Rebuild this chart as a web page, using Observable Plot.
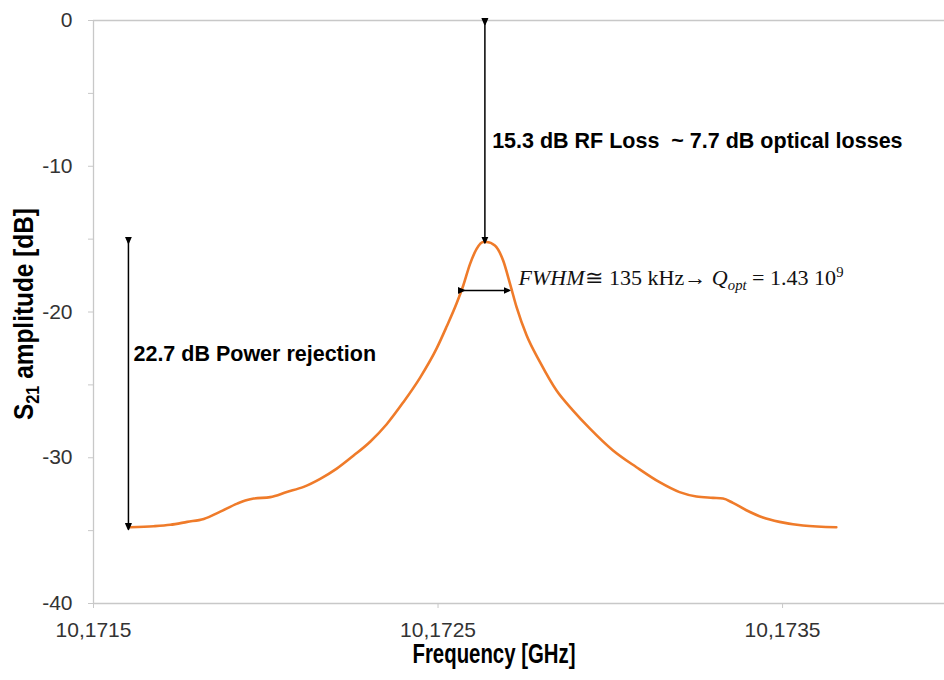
<!DOCTYPE html>
<html><head><meta charset="utf-8">
<script src="https://cdn.jsdelivr.net/npm/d3@7"></script>
<script src="https://cdn.jsdelivr.net/npm/@observablehq/plot@0.6"></script>
<style>body{margin:0;background:#fff} svg{display:block}</style>
</head><body><div id="chart"></div>
<script>
// Measured S21 trace (frequency in GHz, amplitude in dB)
const freq = [10.171607,10.171675,10.171723,10.171772,10.171820,10.171868,10.171917,10.171946,10.171965,10.172013,10.172061,10.172110,10.172158,10.172206,10.172255,10.172303,10.172351,10.172399,10.172448,10.172496,10.172525,10.172554,10.172573,10.172593,10.172612,10.172631,10.172641,10.172665,10.172689,10.172709,10.172728,10.172757,10.172796,10.172844,10.172892,10.172941,10.173008,10.173076,10.173143,10.173201,10.173250,10.173298,10.173327,10.173356,10.173395,10.173443,10.173491,10.173559,10.173656];
const s21  = [-34.77,-34.70,-34.60,-34.40,-34.20,-33.70,-33.15,-32.90,-32.80,-32.70,-32.35,-32.00,-31.45,-30.75,-29.85,-28.90,-27.70,-26.20,-24.50,-22.50,-21.00,-19.40,-18.20,-16.70,-15.67,-15.20,-15.20,-15.44,-16.47,-18.07,-19.67,-21.60,-23.44,-25.39,-26.76,-28.00,-29.50,-30.65,-31.68,-32.36,-32.66,-32.75,-32.80,-33.10,-33.60,-34.10,-34.40,-34.65,-34.77];

const xDomain = [10.1715, 10.17397];
const yDomain = [-40, 0];
const xTicks = [10.1715, 10.1725, 10.1735];
const yTicks = [-40, -35, -30, -25, -20, -15, -10, -5, 0];
const yLabels = [-40, -30, -20, -10, 0];
const xTitle = "Frequency [GHz]";
const yTitleMain = "S", yTitleSub = "21", yTitleRest = " amplitude [dB]";

// annotation arrows (data units)
const arrowX1 = [10.172636, 10.1716014, 10.172573];
const arrowX2 = [10.172636, 10.1716014, 10.172705];
const arrowY1 = [-0.2, -15.2, -18.52];
const arrowY2 = [-15.2, -34.85, -18.52];

// annotation labels (data units)
const noteText = ["15.3 dB RF Loss\u00a0\u00a0~ 7.7 dB optical losses", "22.7 dB Power rejection"];
const noteX = [10.172657, 10.171616];
const noteY = [-8.78, -23.33];
const fwhmX = 10.172735, fwhmY = -18.18;

const trace = freq.map((f, i) => ({f, v: s21[i]}));
const arrows = arrowX1.map((x1, i) => ({x1, x2: arrowX2[i], y1: arrowY1[i], y2: arrowY2[i]}));
const notes = noteText.map((t, i) => ({t, x: noteX[i], y: noteY[i]}));

const chart = Plot.plot({
  width: 944, height: 680,
  marginTop: 20, marginBottom: 77, marginLeft: 93, marginRight: 0,
  style: {fontFamily: "'Liberation Sans', Arial, sans-serif", fontSize: "21px", background: "#fff", overflow: "visible"},
  x: {domain: xDomain},
  y: {domain: yDomain},
  marks: [
    Plot.ruleY([0], {stroke: "#c8c8c8", strokeWidth: 1.3}),
    Plot.ruleY([-40], {stroke: "#c8c8c8", strokeWidth: 1.3}),
    Plot.ruleX([xDomain[0]], {stroke: "#c8c8c8", strokeWidth: 1.3}),
    Plot.axisX({ticks: xTicks, tickFormat: d => d.toFixed(4).replace(".", ","), tickSize: 5, tickPadding: 14,
      stroke: "#c8c8c8", fill: "#333", fontSize: 21, label: null}),
    Plot.axisY({ticks: yTicks, tickFormat: d => yLabels.includes(d) ? String(d) : "", tickSize: 5, tickPadding: 16,
      stroke: "#c8c8c8", fill: "#333", fontSize: 21, label: null}),
    Plot.line(trace, {x: "f", y: "v", stroke: "#EF7B2A", strokeWidth: 2.6, curve: "monotone-x"}),
    Plot.link(arrows, {x1: "x1", x2: "x2", y1: "y1", y2: "y2", stroke: "#000", strokeWidth: 1.5,
      markerStart: "arrow", markerEnd: "arrow"}),
    Plot.text(notes, {x: "x", y: "y", text: "t", textAnchor: "start", lineAnchor: "bottom",
      fontSize: 21.5, fontWeight: "bold", fill: "#000"})
  ]
});

const svg = d3.select(chart);
// filled arrowheads
svg.selectAll("marker").attr("fill", "#000").selectAll("path").attr("d", "M-5,-2.6L1,0L-5,2.6Z");

const X = chart.scale("x"), Y = chart.scale("y");

// x-axis title
svg.append("text")
  .attr("x", 494).attr("y", 663)
  .attr("text-anchor", "middle")
  .attr("font-family", "'Liberation Sans', Arial, sans-serif")
  .attr("font-weight", "bold").attr("font-size", 27)
  .attr("textLength", 163).attr("lengthAdjust", "spacingAndGlyphs")
  .attr("fill", "#000")
  .text(xTitle);

// y-axis title with subscript
const yt = svg.append("text")
  .attr("transform", "translate(33,314) rotate(-90)")
  .attr("text-anchor", "middle")
  .attr("font-family", "'Liberation Sans', Arial, sans-serif")
  .attr("font-weight", "bold").attr("font-size", 27)
  .attr("textLength", 212).attr("lengthAdjust", "spacingAndGlyphs")
  .attr("fill", "#000");
yt.append("tspan").text(yTitleMain);
yt.append("tspan").attr("font-size", 18).attr("dy", 6).text(yTitleSub);
yt.append("tspan").attr("dy", -6).text(yTitleRest);

// FWHM formula
const ft = svg.append("text")
  .attr("x", X.apply(fwhmX)).attr("y", Y.apply(fwhmY))
  .attr("text-anchor", "start")
  .attr("font-family", "'Liberation Serif', 'DejaVu Serif', serif")
  .attr("font-size", 21)
  .attr("textLength", 325).attr("lengthAdjust", "spacingAndGlyphs")
  .attr("fill", "#111");
ft.append("tspan").attr("font-style", "italic").text("FWHM");
ft.append("tspan").text("\u2245 135 kHz\u2192 ");
ft.append("tspan").attr("font-style", "italic").text("Q");
ft.append("tspan").attr("font-style", "italic").attr("font-size", 14).attr("dy", 5).text("opt");
ft.append("tspan").attr("dy", -5).text(" = 1.43 10");
ft.append("tspan").attr("font-size", 14).attr("dy", -8).text("9");

document.getElementById("chart").appendChild(chart);
</script>
</body></html>
